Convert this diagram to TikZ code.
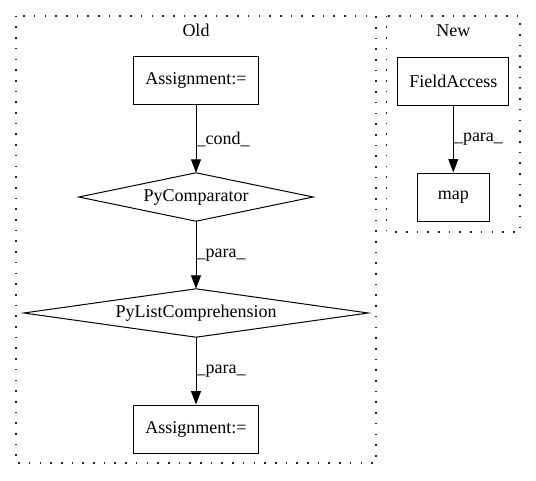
\documentclass[tikz,border=0pt]{standalone}
\usepackage{fontspec}
\setmainfont{Liberation Serif}
\usetikzlibrary{arrows.meta}
\begin{document}
\begin{tikzpicture}[x=1pt,y=-1pt,
  every node/.style={font=\fontsize{18}{21}\selectfont},
  box/.style={draw,rectangle,inner sep=0pt,line width=1pt,minimum height=48pt},
  dia/.style={rectangle,inner sep=0pt,minimum height=48pt},
  dialine/.style={line width=1pt,line join=miter},
  cluster/.style={draw,line width=1.6pt,dash pattern=on 1.6pt off 9.1pt,color=black!85},
  edge/.style={-{Triangle[length=13.5pt,width=10pt]},line width=1pt},
  elab/.style={anchor=west,inner sep=0.5pt}]
\useasboundingbox (0,0) rectangle (536,480);
\draw[cluster] (15.7,15.7) rectangle (375.7,462.7);
\draw[cluster] (386.5,15.7) rectangle (520,231.7);
\node (old) at (196,30.5) {Old};
\node (new) at (453.3,30.5) {New};
\node[box,minimum width=125pt] (a1) at (196,80.5) {Assignment:=};
\node[dia,minimum width=234pt] (pc) at (196,197) {PyComparator};
\draw[dialine] (pc.west) -- (pc.north) -- (pc.east) -- (pc.south) -- cycle;
\node[dia,minimum width=344pt] (pl) at (196,313) {PyListComprehension};
\draw[dialine] (pl.west) -- (pl.north) -- (pl.east) -- (pl.south) -- cycle;
\node[box,minimum width=125pt] (a2) at (196,429) {Assignment:=};
\node[box,minimum width=111pt] (fa) at (453.3,81) {FieldAccess};
\node[box,minimum width=72.6pt] (map) at (453.3,197) {map};
\draw[edge] (a1) -- (pc.north);
\draw[edge] (pc.south) -- (pl.north);
\draw[edge] (pl.south) -- (a2);
\draw[edge] (fa) -- (map);
\node[elab] (l1) at (196,139) {\_cond\_};
\node[elab] (l2) at (196,255) {\_para\_};
\node[elab] (l3) at (196,371) {\_para\_};
\node[elab] (l4) at (453.3,139) {\_para\_};
\end{tikzpicture}
\end{document}
